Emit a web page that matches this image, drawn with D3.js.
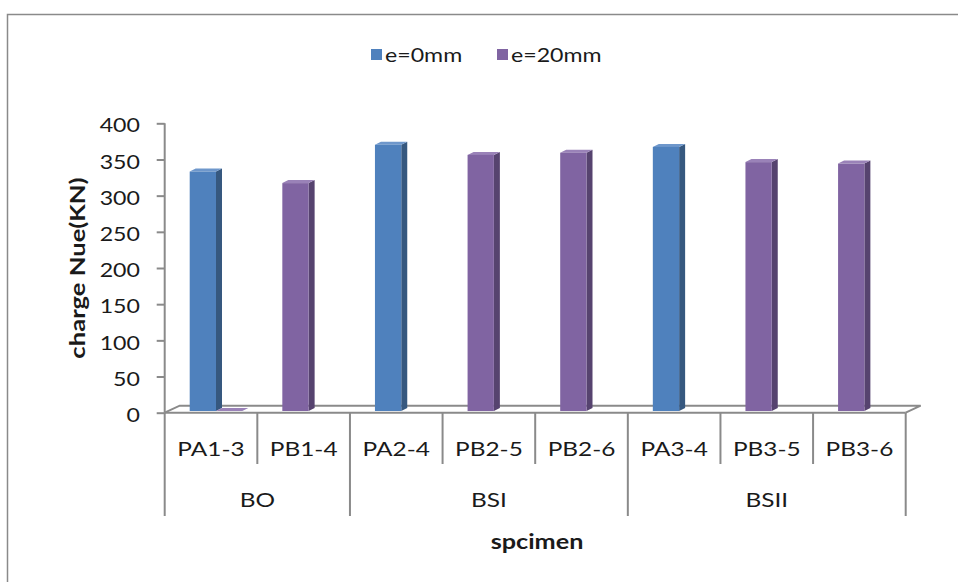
<!DOCTYPE html>
<html>
<head>
<meta charset="utf-8">
<script src="https://cdn.jsdelivr.net/npm/d3@7"></script>
<style>
  html, body { margin: 0; padding: 0; background: #fff; }
  svg { display: block; }
  text { font-family: Lato, "Open Sans", sans-serif; fill: #1a1a1a; }
</style>
</head>
<body>
<svg id="chart" width="958" height="582"></svg>
<script>
// ---- data ----
const categories = ["PA1-3", "PB1-4", "PA2-4", "PB2-5", "PB2-6", "PA3-4", "PB3-5", "PB3-6"];
const groups = ["BO", "BSI", "BSII"];
const groupSizes = [2, 3, 3];
const seriesNames = ["e=0mm", "e=20mm"];
const e0 = [331, null, 368, null, null, 365, null, null];
const e20 = [0, 315, null, 354, 357, null, 344, 342];
const yTicks = [0, 50, 100, 150, 200, 250, 300, 350, 400];

// ---- layout ----
const svg = d3.select("#chart");
const plot = { left: 164.7, right: 905.7, top: 123.3, bottom: 412.7 };
const floorDepth = { dx: 15, dy: -7 };
const barDepth = { dx: 6, dy: -3 };
const barShift = { dx: 5, dy: -1.7 };
const SX = 1.22; // horizontal text stretch
const axisColor = "#8a8a8a";
const colors = {
  "e=0mm": { front: "#4F81BD", side: "#36587F", top: "#6E97CB" },
  "e=20mm": { front: "#8064A2", side: "#56436F", top: "#9A82B8" }
};

function txt(parent, x, y, s, opts = {}) {
  const g = parent.append("g").attr("transform", `translate(${x},${y})${opts.rotate ? ` rotate(${opts.rotate})` : ""} scale(${opts.sx || SX},1)`);
  g.append("text")
    .attr("text-anchor", opts.anchor || "middle")
    .attr("dominant-baseline", "central")
    .style("font-size", (opts.size || 19) + "px")
    .style("font-weight", opts.weight || "normal")
    .text(s);
  return g;
}

// chart border
svg.append("rect").attr("x", 7.5).attr("y", 14.5).attr("width", 1000).attr("height", 1000)
  .attr("fill", "none").attr("stroke", "#8a8a8a").attr("stroke-width", 1.5);

// scales
const x = d3.scaleBand().domain(categories).range([plot.left, plot.right]).paddingInner(0).paddingOuter(0);
const y = d3.scaleLinear().domain([0, 400]).range([plot.bottom, plot.top]);
const slot = d3.scaleBand().domain([0, 1]).range([20, 72.6]).paddingInner(0).paddingOuter(0);

// floor (3D base)
const fl = plot.left, fr = plot.right, fb = plot.bottom;
svg.append("path")
  .attr("d", `M${fl},${fb} L${fl + floorDepth.dx},${fb + floorDepth.dy} L${fr + floorDepth.dx},${fb + floorDepth.dy} L${fr},${fb}`)
  .attr("fill", "none").attr("stroke", axisColor).attr("stroke-width", 2);

// y axis
const yAxis = d3.axisLeft(y).tickValues(yTicks).tickSize(8).tickFormat(d3.format("d"));
const yg = svg.append("g").attr("transform", `translate(${plot.left},0)`).call(yAxis);
yg.select(".domain").attr("stroke", axisColor).attr("stroke-width", 2).attr("d", `M0,${plot.top}V${plot.bottom}`);
yg.selectAll(".tick line").attr("stroke", axisColor).attr("stroke-width", 2);
yg.selectAll(".tick text").remove();
yTicks.forEach(v => txt(svg, 140, y(v) + 2, String(v), { anchor: "end" }));

// x axis: category boundaries
const catTickBottom = 464, groupTickBottom = 516;
svg.append("line").attr("x1", fl).attr("x2", fr).attr("y1", fb).attr("y2", fb)
  .attr("stroke", axisColor).attr("stroke-width", 2);
const groupStarts = [];
let acc = 0; groupSizes.forEach(s => { groupStarts.push(acc); acc += s; });
for (let i = 0; i <= categories.length; i++) {
  const xx = i < categories.length ? x(categories[i]) : plot.right;
  const isGroup = i === categories.length || groupStarts.includes(i);
  svg.append("line").attr("x1", xx).attr("x2", xx).attr("y1", fb).attr("y2", isGroup ? groupTickBottom : catTickBottom)
    .attr("stroke", axisColor).attr("stroke-width", 2);
}
categories.forEach(c => txt(svg, x(c) + x.bandwidth() / 2, 448, c, { size: 20 }));
groups.forEach((gname, gi) => {
  const a = x(categories[groupStarts[gi]]);
  const b = a + groupSizes[gi] * x.bandwidth();
  txt(svg, (a + b) / 2, 499, gname, { size: 20 });
});

// axis titles
txt(svg, 537, 541, "spcimen", { weight: "bold", size: 21, sx: 1.2 });
txt(svg, 77, 268, "charge Nue(KN)", { weight: "bold", size: 20, rotate: -90, sx: 1.28 });

// bars
const bars = [];
categories.forEach((c, i) => {
  const vals = [e0[i], e20[i]];
  let s = 0;
  vals.forEach((v, si) => {
    if (v === null) return;
    bars.push({ cat: c, series: seriesNames[si], value: v, slot: s });
    s++;
  });
});
const bw = slot.bandwidth();
const barG = svg.append("g");
bars.forEach(d => {
  const col = colors[d.series];
  const x0 = x(d.cat) + slot(d.slot) + barShift.dx;
  const x1 = x0 + bw;
  const yb = y(0) + barShift.dy;
  const yt = y(d.value) + barShift.dy;
  const g = barG.append("g");
  g.append("path").attr("d", `M${x1},${yb} L${x1 + barDepth.dx},${yb + barDepth.dy} L${x1 + barDepth.dx},${yt + barDepth.dy} L${x1},${yt} Z`)
    .attr("fill", col.side);
  g.append("path").attr("d", `M${x0},${yt} L${x0 + barDepth.dx},${yt + barDepth.dy} L${x1 + barDepth.dx},${yt + barDepth.dy} L${x1},${yt} Z`)
    .attr("fill", col.top);
  if (yb - yt > 0.5) {
    g.append("rect").attr("x", x0).attr("y", yt).attr("width", bw).attr("height", yb - yt).attr("fill", col.front);
  }
});

// legend
const legendItems = [{ name: "e=0mm", x: 371 }, { name: "e=20mm", x: 497 }];
legendItems.forEach(li => {
  svg.append("rect").attr("x", li.x).attr("y", 49).attr("width", 11).attr("height", 11).attr("fill", colors[li.name].front);
  txt(svg, li.x + 14, 55, li.name, { anchor: "start" });
});
</script>
</body>
</html>
